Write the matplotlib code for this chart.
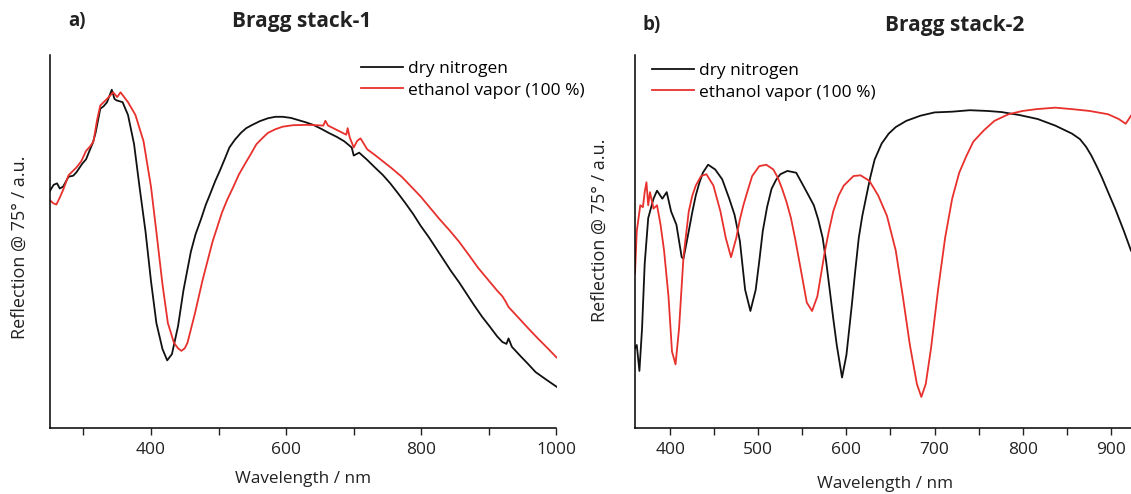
import matplotlib
matplotlib.use("Agg")
import matplotlib.pyplot as plt

# ---------------- data (arbitrary units) ----------------
# Panel a: Bragg stack-1
a_dry_wl = [250, 256, 261, 265, 270, 278, 285, 290, 298, 304, 309, 314, 318, 325, 330, 335, 342, 346, 349, 358, 366, 375,
            383, 392, 400, 408, 417, 424, 431, 440, 448, 459, 466, 474, 481, 488, 495, 502, 509, 516, 524, 533,
            541, 550, 561, 573, 584, 595, 607, 618, 629, 640, 652, 663, 675, 686, 697, 700, 708, 720, 731, 743, 754, 765, 776, 788, 799, 811, 822,
            833, 844, 856, 867, 878, 890, 901, 912, 920, 926, 929, 934, 946, 958, 969, 985, 1000]
a_dry_r = [62.7, 64.5, 64.9, 63.5, 64.0, 66.7, 67.0, 68.0, 70.2, 71.5, 73.8, 76.0, 78.7, 85.3, 86.0, 87.1, 90.5, 88.0, 87.6, 87.1, 83.6, 75.6,
           64.0, 51.6, 38.2, 26.7, 19.6, 16.5, 18.2, 25.8, 35.6, 46.2, 51.0, 55.1, 59.0, 62.2, 65.5, 68.4, 71.5, 74.7, 76.8, 78.7,
           80.0, 80.9, 81.9, 82.7, 83.1, 83.1, 82.8, 82.2, 81.6, 80.9, 79.8, 78.7, 77.6, 76.4, 74.7, 72.5, 73.3, 71.3, 69.3, 67.2, 64.9, 62.3, 59.6, 56.5, 53.3, 50.2, 47.1,
           44.0, 40.9, 37.8, 34.7, 31.6, 28.4, 25.8, 23.1, 21.5, 21.0, 22.5, 20.2, 17.8, 15.5, 13.3, 11.2, 9.3]

a_eth_wl = [250, 255, 260, 265, 270, 278, 290, 297, 304, 310, 315, 320, 325, 335, 344, 350, 355, 366, 377, 389, 400,
            408, 417, 425, 434, 440, 445, 450, 454, 465, 476, 491, 505, 513, 522, 530, 539, 548, 556, 565, 573, 584, 595,
            610, 630, 645, 655, 658, 662, 675, 689, 691, 694, 700, 705, 710, 720, 731, 742, 757, 771, 785, 799,
            813, 827, 842, 856, 870, 884, 898, 912, 920, 925, 929, 940, 951, 962, 974, 987, 1000]
a_eth_r = [60.4, 59.5, 59.1, 61.0, 63.1, 67.1, 69.3, 71.0, 73.8, 75.0, 76.4, 82.0, 86.2, 88.0, 89.8, 88.5, 89.8, 87.1, 83.6, 76.4, 64.0,
           51.6, 37.3, 26.7, 21.3, 19.8, 19.1, 19.8, 21.3, 29.3, 38.2, 48.9, 56.9, 60.5, 64.0, 67.3, 70.2, 73.0, 75.6, 77.3, 78.7, 79.7, 80.4,
           80.8, 80.9, 80.8, 80.7, 82.0, 80.7, 79.5, 78.2, 80.0, 77.5, 74.7, 76.5, 77.2, 74.2, 72.7, 71.1, 68.9, 66.7, 64.0, 61.3,
           58.2, 55.1, 52.0, 48.9, 45.4, 41.8, 38.7, 35.6, 34.0, 32.5, 31.1, 28.9, 26.7, 24.5, 22.2, 19.8, 17.3]

# Panel b: Bragg stack-2
b_dry_wl = [360, 362, 365, 368, 371, 375, 381, 385, 391, 396, 401, 407, 413, 415, 421,
            425, 429, 433, 437, 443, 451, 459, 467, 473, 479, 485, 491, 497, 501, 505, 510, 515, 520, 525, 533,
            543, 553, 563, 568, 573, 577, 581, 585, 589, 595, 600, 606, 610, 614, 618, 622, 627, 632, 640, 648, 656,
            668, 684, 700, 720, 740, 760, 776, 796, 817, 837, 856, 865, 872, 878, 884, 890, 897, 905,
            915, 923]
b_dry_r = [19.8, 20.7, 13.6, 25.2, 42.9, 55.4, 60.7, 62.9, 60.7, 62.5, 57.2, 53.6, 44.7, 44.3, 51.8,
           57.0, 61.6, 65.0, 67.8, 70.0, 68.7, 66.0, 60.7, 56.3, 49.2, 35.8, 30.0, 35.8, 43.5, 51.8, 58.5, 63.4, 65.8, 67.4, 68.3,
           67.8, 63.4, 58.9, 55.0, 50.0, 43.5, 35.8, 28.0, 20.7, 11.8, 18.0, 31.4, 41.0, 50.0, 56.0, 60.7, 66.5, 71.4, 75.8, 78.5, 80.3,
           82.0, 83.4, 84.3, 84.5, 84.9, 84.7, 84.4, 83.6, 82.5, 80.7, 78.5, 77.0, 74.9, 72.5, 69.6, 66.5, 62.5, 58.0,
           51.8, 46.5]

b_eth_wl = [360, 362, 366, 369, 371, 373, 375, 377, 381, 385, 389, 393, 398, 402, 406,
            410, 415, 421, 425, 429, 435, 441, 449, 457, 463, 469, 475, 479, 483, 488, 493, 501, 509,
            517, 522, 527, 532, 537, 542, 547, 555, 561, 567, 575, 580, 585, 591, 597, 608, 616, 626, 636, 646,
            656, 664, 672, 680, 685, 690, 696, 704, 712, 720, 728, 736, 744, 756, 768,
            784, 800, 816, 837, 856, 876, 897, 909, 917, 923]
b_eth_r = [40.3, 51.8, 58.9, 58.4, 62.5, 65.2, 58.9, 62.5, 58.0, 58.9, 53.6, 46.5, 34.0, 18.9, 15.4,
           25.2, 44.7, 57.2, 61.5, 64.3, 66.9, 67.4, 64.3, 57.2, 50.0, 44.7, 50.0, 55.0, 58.9, 63.0, 66.9, 69.6, 70.0,
           68.7, 66.5, 63.4, 59.8, 55.4, 49.5, 42.9, 32.3, 30.0, 34.0, 45.6, 51.8, 57.2, 61.5, 64.3, 66.9, 67.1, 65.6, 61.6, 56.0,
           46.5, 34.0, 20.7, 10.0, 6.5, 10.0, 19.8, 35.8, 50.0, 60.7, 67.8, 72.3, 76.3, 79.4, 82.0,
           83.8, 84.7, 85.2, 85.6, 85.2, 84.7, 83.8, 82.5, 81.2, 83.4]

series_labels = ["dry nitrogen", "ethanol vapor (100 %)"]
titles = ["Bragg stack-1", "Bragg stack-2"]
panel_tags = ["a)", "b)"]
xlabel = "Wavelength / nm"
ylabel = "Reflection @ 75° / a.u."

# ---------------- styling ----------------
plt.rcParams['font.family'] = ['Open Sans', 'DejaVu Sans']
BLACK = "#111111"
RED = "#e8302c"
TXT = "#222222"

W, H = 1131, 494
fig = plt.figure(figsize=(W / 100, H / 100), dpi=100)

def fx(px):
    return px / W

def fy(py):
    return 1 - py / H

ax_a = fig.add_axes([fx(49.6), fy(428), fx(556.5) - fx(49.6), fy(55) - fy(428)])
ax_b = fig.add_axes([fx(635), fy(428), fx(1131) - fx(635), fy(55) - fy(428)])

for ax in (ax_a, ax_b):
    for s in ("top", "right"):
        ax.spines[s].set_visible(False)
    ax.spines["left"].set_linewidth(1.1)
    ax.spines["bottom"].set_linewidth(1.1)
    ax.set_yticks([])
    ax.tick_params(axis="x", which="both", direction="out", length=5, width=1.0,
                   labelsize=12.5, colors=TXT, pad=5)
    ax.set_ylim(-2, 100)

# panel a
ax_a.plot(a_dry_wl, a_dry_r, color=BLACK, lw=1.3, label=series_labels[0])
ax_a.plot(a_eth_wl, a_eth_r, color=RED, lw=1.3, label=series_labels[1])
ax_a.set_xlim(250, 1000)
ax_a.set_xticks([400, 600, 800, 1000])
ax_a.set_xticks([300, 500, 700, 900], minor=True)

# panel b
ax_b.plot(b_dry_wl, b_dry_r, color=BLACK, lw=1.3, label=series_labels[0])
ax_b.plot(b_eth_wl, b_eth_r, color=RED, lw=1.3, label=series_labels[1])
ax_b.set_xlim(360, 923)
ax_b.set_xticks([400, 500, 600, 700, 800, 900])
ax_b.set_xticks([450, 550, 650, 750, 850], minor=True)

# labels
fig.text(fx(20), fy(247), ylabel, rotation=90, ha="center", va="center", fontsize=13, color=TXT)
fig.text(fx(600), fy(230), ylabel, rotation=90, ha="center", va="center", fontsize=13, color=TXT)

fig.text(fx(303), fy(479), xlabel, ha="center", va="center", fontsize=12.3, color=TXT)
fig.text(fx(885), fy(484), xlabel, ha="center", va="center", fontsize=12.3, color=TXT)

fig.text(fx(302), fy(21), titles[0], ha="center", va="center", fontsize=15, fontweight="bold", color=TXT)
fig.text(fx(955), fy(25), titles[1], ha="center", va="center", fontsize=15, fontweight="bold", color=TXT)
fig.text(fx(77), fy(21), panel_tags[0], ha="center", va="center", fontsize=13.5, fontweight="bold", color=TXT)
fig.text(fx(652), fy(25), panel_tags[1], ha="center", va="center", fontsize=13.5, fontweight="bold", color=TXT)

leg_kw = dict(frameon=False, fontsize=12.5, handlelength=2.4, handletextpad=0.3,
              labelspacing=0.3, borderpad=0, borderaxespad=0)
ax_a.legend(loc="upper left", bbox_to_anchor=(fx(361), fy(61)), bbox_transform=fig.transFigure, **leg_kw)
ax_b.legend(loc="upper left", bbox_to_anchor=(fx(652), fy(63)), bbox_transform=fig.transFigure, **leg_kw)

fig.savefig("out.png", dpi=100)
